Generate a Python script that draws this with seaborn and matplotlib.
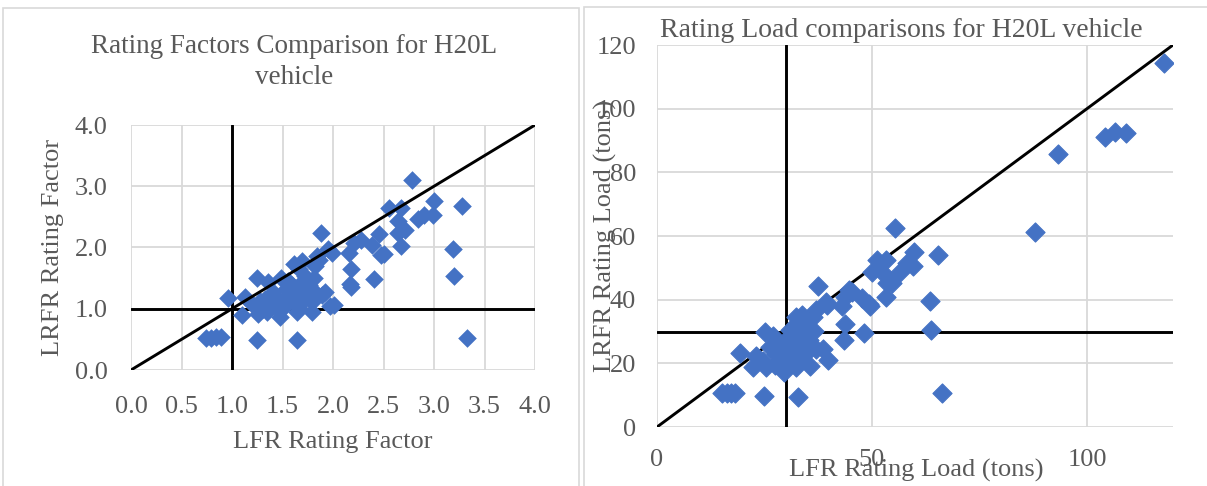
import matplotlib
matplotlib.use('Agg')
import matplotlib.pyplot as plt
import seaborn as sns
import pandas as pd
from matplotlib.ticker import FormatStrFormatter
from matplotlib.patches import Rectangle

# ---------------- data: rating factors (left) ----------------
lfr_factor = [2.78, 3.00, 3.28, 2.55, 2.67, 2.90, 2.99, 2.84, 2.64, 2.46,
              2.71, 2.64, 2.67, 2.39, 2.50, 2.48, 2.28, 2.21, 2.16, 1.88,
              1.99, 1.95, 2.18, 2.17, 2.18, 2.41, 3.19, 3.20, 3.33, 2.01,
              1.97, 1.89, 1.82, 1.81, 1.82, 1.84, 1.79, 1.64, 1.64, 1.25,
              1.10, 0.96, 1.13, 1.25, 1.36, 1.26, 1.25, 1.38, 1.48, 1.46,
              1.53, 1.61, 1.69, 1.66, 1.72, 1.49, 1.56, 1.63, 1.72, 1.76,
              1.67, 1.59, 1.41, 1.33, 1.20, 1.92, 1.79, 1.31, 1.46, 0.74,
              0.79, 0.84, 0.89, 1.55, 1.60, 1.35, 1.28, 1.70, 1.52, 1.40,
              1.86, 1.66]
lrfr_factor = [3.11, 2.76, 2.68, 2.64, 2.64, 2.53, 2.53, 2.47, 2.44, 2.22,
               2.29, 2.24, 2.03, 2.04, 1.90, 1.88, 2.13, 2.08, 1.91, 2.23,
               1.91, 1.97, 1.65, 1.40, 1.35, 1.48, 1.97, 1.54, 0.53, 1.06,
               1.05, 1.22, 1.27, 1.51, 1.70, 1.86, 0.95, 0.95, 0.49, 0.49,
               0.89, 1.18, 1.19, 1.51, 1.43, 0.92, 1.05, 1.08, 0.87, 1.16,
               1.32, 1.73, 1.78, 1.65, 1.54, 1.51, 1.22, 1.11, 1.16, 1.38,
               1.32, 1.38, 1.27, 1.16, 1.08, 1.27, 1.11, 1.00, 1.00, 0.53,
               0.53, 0.54, 0.54, 1.45, 1.25, 0.95, 1.12, 1.45, 1.05, 1.20,
               1.80, 1.02]

# ---------------- data: rating loads (right) ----------------
lfr_load = [55.4, 59.8, 65.4, 51.2, 53.3, 50.0, 52.5, 56.5, 58.1, 59.6,
            53.5, 54.6, 53.2, 63.5, 63.8, 66.2, 44.6, 45.4, 43.7, 47.7,
            49.6, 49.2, 43.1, 37.5, 39.2, 39.6, 36.9, 43.8, 43.5, 48.1,
            39.8, 38.5, 35.6, 32.9, 24.8, 32.3, 33.8, 36.2, 32.7, 34.6,
            36.5, 30.8, 32.3, 33.8, 35.4, 36.9, 31.5, 30.0, 33.5, 33.1,
            32.3, 29.6, 27.7, 26.2, 25.0, 26.9, 23.1, 22.3, 25.4, 28.5,
            19.2, 15.0, 16.2, 17.3, 18.1, 30.8, 31.2, 24.6, 87.8, 93.2,
            104.1, 106.4, 109.0, 118.0, 31.0, 34.0, 29.5, 27.5, 35.0]
lrfr_load = [62.4, 55.1, 54.0, 52.6, 52.6, 48.7, 48.4, 48.7, 51.4, 50.5,
             45.1, 45.1, 40.8, 39.6, 30.5, 10.6, 42.9, 42.4, 40.8, 40.6,
             38.0, 38.7, 37.9, 44.3, 39.3, 38.2, 36.6, 32.4, 27.2, 29.5,
             21.1, 24.5, 19.3, 9.3, 9.6, 34.5, 35.1, 34.5, 31.4, 30.3,
             30.3, 28.2, 26.1, 27.2, 27.2, 24.5, 22.9, 22.9, 22.9, 20.3,
             18.7, 17.2, 22.9, 25.1, 29.8, 28.7, 22.4, 18.7, 18.7, 20.3,
             23.2, 10.6, 10.8, 10.8, 10.8, 20.8, 25.1, 20.8, 61.4, 85.7,
             91.1, 92.7, 92.2, 114.5, 30.5, 32.5, 26.0, 19.5, 24.0]

# reference lines (threshold and 1:1 line)
factor_threshold = [1.0]
factor_range = [0.0, 4.0]
load_threshold = [30.0]
load_range = [0.0, 120.0]

factor_xticks = [0.0, 0.5, 1.0, 1.5, 2.0, 2.5, 3.0, 3.5, 4.0]
factor_yticks = [0.0, 1.0, 2.0, 3.0, 4.0]
load_xticks = [0, 50, 100]
load_yticks = [0, 20, 40, 60, 80, 100, 120]

df_f = pd.DataFrame({'LFR': lfr_factor, 'LRFR': lrfr_factor})
df_l = pd.DataFrame({'LFR': lfr_load, 'LRFR': lrfr_load})

sns.set_theme(style='white')
plt.rcParams['font.family'] = ['Liberation Serif', 'DejaVu Serif']

TXT = '#595959'
GRID = '#d9d9d9'
BLUE = '#4472C4'
FS = 19
LW = 2.1

W, H = 1207, 486
fig = plt.figure(figsize=(W / 100, H / 100), dpi=100)

# panel borders
fig.patches.append(Rectangle((3 / W, -0.02), 576 / W, (H - 8) / H + 0.02,
                             transform=fig.transFigure, fill=False,
                             ec=GRID, lw=1.2))
fig.patches.append(Rectangle((584 / W, -0.02), 640 / W, (H - 7) / H + 0.02,
                             transform=fig.transFigure, fill=False,
                             ec=GRID, lw=1.2))

ax1 = fig.add_axes([131 / W, (H - 370) / H, 404 / W, 245 / H])
ax2 = fig.add_axes([657 / W, (H - 427) / H, 516 / W, 382 / H])

# ---- left panel ----
for v in factor_threshold:
    ax1.axvline(v, color='black', lw=LW, zorder=2)
    ax1.axhline(v, color='black', lw=LW, zorder=2)
sns.scatterplot(data=df_f, x='LFR', y='LRFR', ax=ax1, marker='D', s=90,
                color=BLUE, linewidth=0, zorder=3)
ax1.plot(factor_range, factor_range, color='black', lw=LW, zorder=4)
ax1.set_xlim(factor_range)
ax1.set_ylim(factor_range)
ax1.set_xticks(factor_xticks)
ax1.set_yticks(factor_yticks)
ax1.xaxis.set_major_formatter(FormatStrFormatter('%.1f'))
ax1.yaxis.set_major_formatter(FormatStrFormatter('%.1f'))

# ---- right panel ----
for v in load_threshold:
    ax2.axvline(v, color='black', lw=LW, zorder=2)
    ax2.axhline(v, color='black', lw=LW, zorder=2)
ax2.plot(load_range, load_range, color='black', lw=LW, zorder=2)
sns.scatterplot(data=df_l, x='LFR', y='LRFR', ax=ax2, marker='D', s=95,
                color=BLUE, linewidth=0.8, edgecolor=BLUE, zorder=3)
ax2.set_xlim(load_range)
ax2.set_ylim(load_range)
ax2.set_xticks(load_xticks)
ax2.set_yticks(load_yticks)

for ax in (ax1, ax2):
    for s in ax.spines.values():
        s.set_visible(False)
    ax.grid(True, color=GRID, lw=1.3, zorder=0)
    ax.set_axisbelow(True)
    ax.tick_params(length=0, labelsize=FS, labelcolor=TXT)

ax1.tick_params(axis='x', pad=19)
ax1.tick_params(axis='y', pad=17)
ax2.tick_params(axis='x', pad=16)
ax2.tick_params(axis='y', pad=15)

ax1.set_xlabel('LFR Rating Factor', fontsize=FS, color=TXT, va='center')
ax1.set_ylabel('LRFR Rating Factor', fontsize=FS, color=TXT, va='center')
ax1.xaxis.set_label_coords(0.5, (370 - 442) / 245)
ax1.yaxis.set_label_coords((53 - 131) / 404, 0.5)

ax2.set_xlabel('LFR Rating Load (tons)', fontsize=FS, color=TXT, va='center')
ax2.set_ylabel('LRFR Rating Load (tons)', fontsize=FS, color=TXT, va='center')
ax2.xaxis.set_label_coords((916 - 657) / 516, (427 - 470) / 382)
ax2.yaxis.set_label_coords((605 - 657) / 516, 0.5)

fig.text(294 / W, (H - 62) / H, 'Rating Factors Comparison for H20L\nvehicle',
         ha='center', va='center', fontsize=FS + 0.5, color=TXT, linespacing=1.3)
fig.text(901 / W, (H - 30) / H, 'Rating Load comparisons for H20L vehicle',
         ha='center', va='center', fontsize=FS + 1, color=TXT)

fig.savefig('out.png', dpi=100)
